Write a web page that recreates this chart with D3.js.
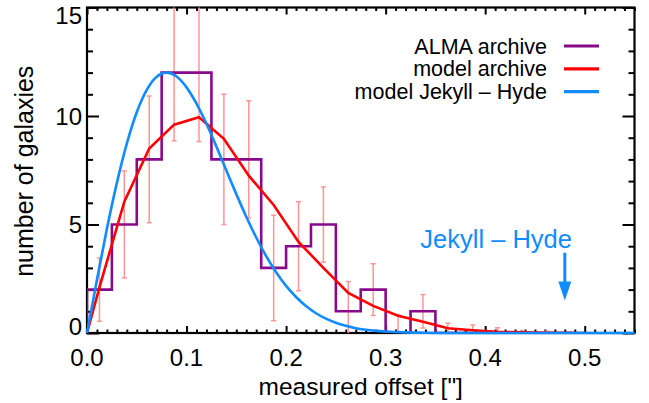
<!DOCTYPE html>
<html>
<head>
<meta charset="utf-8">
<script src="https://cdn.jsdelivr.net/npm/d3@7"></script>
<style>
  body { margin: 0; background: #fff; }
  svg { display: block; }
  text { font-family: "Liberation Sans", Arial, Helvetica, sans-serif; fill: #000; }
</style>
</head>
<body>
<svg id="chart" width="649" height="403"></svg>
<script>
// ---- data ----
const xTicks = [0, 0.1, 0.2, 0.3, 0.4, 0.5];
const xTickLabels = ["0.0", "0.1", "0.2", "0.3", "0.4", "0.5"];
const yTicks = [0, 5, 10, 15];
const yTickLabels = ["0", "5", "10", "15"];

const binWidth = 0.025;
const binCenters = [0.0125, 0.0375, 0.0625, 0.0875, 0.1125, 0.1375, 0.1625, 0.1875, 0.2125, 0.2375,
                    0.2625, 0.2875, 0.3125, 0.3375, 0.3625, 0.3875, 0.4125, 0.4375, 0.4625, 0.4875];
const almaCounts = [2, 5, 8, 12, 12, 8, 8, 3, 4, 5, 1, 2, 0, 1, 0, 0, 0, 0, 0, 0];
const countErrors = [1.46, 2.46, 2.92, 3.14, 3.18, 3.0, 2.7, 2.43, 2.05, 1.73,
                     1.37, 1.19, 0.83, 0.77, 0.45, 0.37, 0.24, 0.12, 0.08, 0.05];

const modelArchiveX = [0, 0.0125, 0.0375, 0.0625, 0.0875, 0.1125, 0.1375, 0.1625, 0.1875, 0.2125, 0.2375,
                       0.2625, 0.2875, 0.3125, 0.3375, 0.3625, 0.3875, 0.4125, 0.4375, 0.4625, 0.4875];
const modelArchive = [0, 2.1, 6.05, 8.5, 9.6, 9.94, 8.95, 7.25, 5.9, 4.2, 3.0,
                      1.85, 1.25, 0.8, 0.52, 0.22, 0.13, 0.06, 0.03, 0.01, 0];

const jekyllHydeX = [0, 0.01, 0.02, 0.03, 0.04, 0.05, 0.06, 0.07, 0.08, 0.09, 0.10, 0.11, 0.12, 0.13,
                     0.14, 0.15, 0.16, 0.17, 0.18, 0.19, 0.20, 0.21, 0.22, 0.23, 0.24, 0.25, 0.26, 0.27,
                     0.28, 0.29, 0.30, 0.32, 0.34, 0.36, 0.40, 0.55];
const jekyllHyde = [0, 2.45, 4.8, 6.92, 8.73, 10.17, 11.2, 11.81, 12.0, 11.82, 11.32, 10.57, 9.64, 8.59,
                    7.49, 6.4, 5.36, 4.4, 3.54, 2.8, 2.17, 1.66, 1.24, 0.91, 0.66, 0.47, 0.33, 0.22,
                    0.15, 0.1, 0.07, 0.03, 0.01, 0, 0, 0];

const legendNames = ["ALMA archive", "model archive", "model Jekyll \u2013 Hyde"];
const seriesColors = ["#880a8c", "#ff0000", "#118cff"];
const errorColor = "#ff9494";

const jhOffset = 0.48;          // offset of the Jekyll - Hyde pair
const jhArrow = [3.7, 1.5];     // arrow top and tip, in counts
const jhLabel = "Jekyll \u2013 Hyde";

// ---- layout ----
const svg = d3.select("#chart");
const L = 87, R = 634.5, T = 7.5, B = 333;
const x = d3.scaleLinear().domain([0, 0.55]).range([L, R]);
const y = d3.scaleLinear().domain([0, 15]).range([B, T]);

svg.append("defs").append("clipPath").attr("id", "plotclip")
  .append("rect").attr("x", L).attr("y", T).attr("width", R - L).attr("height", B - T);

// ---- axes (ticks point inward) ----
const xMinor = d3.range(0, 56).map(i => i / 100).filter(v => Math.abs(v * 10 - Math.round(v * 10)) > 1e-6);
const yMinor = d3.range(0, 16).filter(v => v % 5 !== 0);

function tickGroup(axis, tr) {
  const g = svg.append("g").attr("transform", tr).call(axis);
  g.select(".domain").remove();
  g.selectAll(".tick line").attr("stroke", "#000").attr("stroke-width", 2);
  g.selectAll(".tick text").remove();
  return g;
}
tickGroup(d3.axisBottom(x).tickValues(xTicks).tickSize(-7), `translate(0,${B})`);
tickGroup(d3.axisBottom(x).tickValues(xMinor).tickSize(-3.5), `translate(0,${B})`);
tickGroup(d3.axisTop(x).tickValues(xTicks).tickSize(-7), `translate(0,${T})`);
tickGroup(d3.axisTop(x).tickValues(xMinor).tickSize(-3.5), `translate(0,${T})`);
tickGroup(d3.axisLeft(y).tickValues(yTicks).tickSize(-12), `translate(${L},0)`);
tickGroup(d3.axisLeft(y).tickValues(yMinor).tickSize(-6), `translate(${L},0)`);
tickGroup(d3.axisRight(y).tickValues(yTicks).tickSize(-12), `translate(${R},0)`);
tickGroup(d3.axisRight(y).tickValues(yMinor).tickSize(-6), `translate(${R},0)`);

svg.append("rect").attr("x", L).attr("y", T).attr("width", R - L).attr("height", B - T)
  .attr("fill", "none").attr("stroke", "#000").attr("stroke-width", 2.2);

// tick labels
svg.append("g").selectAll("text").data(xTicks).join("text")
  .attr("x", d => x(d)).attr("y", B + 33)
  .attr("text-anchor", "middle").attr("font-size", 24)
  .text((d, i) => xTickLabels[i]);

svg.append("g").selectAll("text").data(yTicks).join("text")
  .attr("x", L - 5)
  .attr("y", d => d === 15 ? y(d) + 16 : d === 0 ? y(d) + 2 : y(d) + 8.5)
  .attr("text-anchor", "end").attr("font-size", 24)
  .text((d, i) => yTickLabels[i]);

// axis titles
svg.append("text").attr("x", (L + R) / 2).attr("y", 395).attr("text-anchor", "middle")
  .attr("font-size", 24.5).text("measured offset [\"]");
svg.append("text").attr("transform", `translate(33,${(T + B) / 2 + 1}) rotate(-90)`)
  .attr("text-anchor", "middle").attr("font-size", 25).text("number of galaxies");

// ---- data marks ----
const plot = svg.append("g").attr("clip-path", "url(#plotclip)");

// error bars around the histogram counts
const eb = plot.append("g").attr("stroke", errorColor).attr("stroke-width", 1.5).attr("fill", "none");
binCenters.forEach((c, i) => {
  const lo = almaCounts[i] - countErrors[i], hi = almaCounts[i] + countErrors[i];
  const xc = x(c);
  eb.append("line").attr("x1", xc).attr("x2", xc).attr("y1", y(lo)).attr("y2", y(hi));
  eb.append("line").attr("x1", xc - 2.5).attr("x2", xc + 2.5).attr("y1", y(lo)).attr("y2", y(lo));
  eb.append("line").attr("x1", xc - 2.5).attr("x2", xc + 2.5).attr("y1", y(hi)).attr("y2", y(hi));
});

// histogram as a stepped outline
const histPts = [[0, 0]];
binCenters.forEach((c, i) => {
  histPts.push([c - binWidth / 2, almaCounts[i]]);
  histPts.push([c + binWidth / 2, almaCounts[i]]);
});
histPts.push([binCenters[binCenters.length - 1] + binWidth / 2, 0]);
plot.append("path").datum(histPts)
  .attr("d", d3.line().x(d => x(d[0])).y(d => y(d[1])))
  .attr("fill", "none").attr("stroke", seriesColors[0]).attr("stroke-width", 2.6)
  .attr("stroke-linejoin", "miter");

// model archive
plot.append("path").datum(modelArchiveX.map((v, i) => [v, modelArchive[i]]))
  .attr("d", d3.line().x(d => x(d[0])).y(d => y(d[1])))
  .attr("fill", "none").attr("stroke", seriesColors[1]).attr("stroke-width", 2.6);

// model Jekyll - Hyde (drawn over the lower axis where it reaches zero)
svg.append("path").datum(jekyllHydeX.map((v, i) => [v, jekyllHyde[i]]))
  .attr("d", d3.line().curve(d3.curveMonotoneX).x(d => x(d[0])).y(d => y(d[1])))
  .attr("fill", "none").attr("stroke", seriesColors[2]).attr("stroke-width", 2.6);

// ---- legend ----
const lg = svg.append("g");
legendNames.forEach((name, i) => {
  const yy = 46 + i * 22.8;
  lg.append("text").attr("x", 547).attr("y", yy + 7.5).attr("text-anchor", "end")
    .attr("font-size", 21.5).text(name);
  lg.append("line").attr("x1", 564).attr("x2", 599).attr("y1", yy).attr("y2", yy)
    .attr("stroke", seriesColors[i]).attr("stroke-width", 3.2);
});

// ---- Jekyll - Hyde annotation ----
const ax = x(jhOffset);
svg.append("text").attr("x", 572).attr("y", 248).attr("text-anchor", "end")
  .attr("font-size", 25.5).style("fill", seriesColors[2]).text(jhLabel);
svg.append("line").attr("x1", ax).attr("x2", ax).attr("y1", y(jhArrow[0])).attr("y2", y(jhArrow[1]) - 16)
  .attr("stroke", seriesColors[2]).attr("stroke-width", 3);
svg.append("path")
  .attr("d", `M${ax - 6.5},${y(jhArrow[1]) - 19} L${ax + 6.5},${y(jhArrow[1]) - 19} L${ax},${y(jhArrow[1])} Z`)
  .attr("fill", seriesColors[2]);
</script>
</body>
</html>
